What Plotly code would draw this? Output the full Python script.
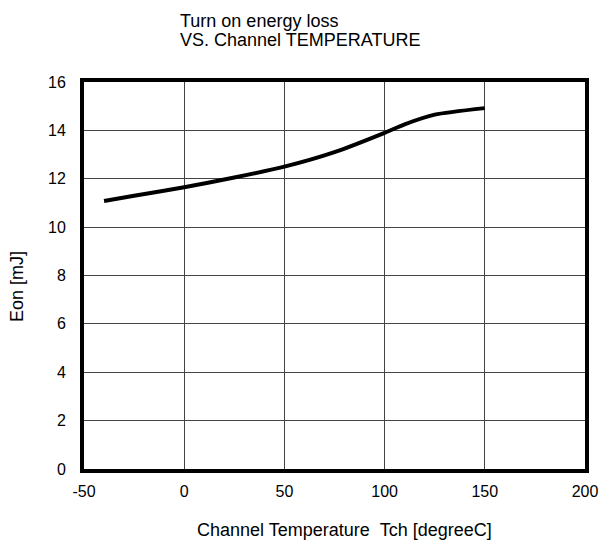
import plotly.graph_objects as go

temps = [-40, -25, 0, 25, 50, 75, 100, 110, 125, 150]
eon = [11.08, 11.3, 11.65, 12.05, 12.5, 13.1, 13.9, 14.25, 14.65, 14.92]

x_ticks = [-50, 0, 50, 100, 150, 200]
y_ticks = [0, 2, 4, 6, 8, 10, 12, 14, 16]

title_lines = ["Turn on energy loss", "VS. Channel TEMPERATURE"]
x_title = "Channel Temperature&nbsp;&nbsp;Tch [degreeC]"
y_title = "Eon [mJ]"

L, R, T, B = 84, 21, 82, 74
W, H = 606, 543
pw, ph = W - L - R, H - T - B


def px_x(p):
    return (p - L) / pw


def px_y(p):
    return (H - B - p) / ph


fig = go.Figure()
fig.add_trace(go.Scatter(x=temps, y=eon, mode="lines",
                         line=dict(color="black", width=4, shape="spline", smoothing=0.6),
                         showlegend=False, hoverinfo="skip"))

font = dict(family="Liberation Sans, Arial, sans-serif", size=16, color="black")
tfont = dict(family="Liberation Sans, Arial, sans-serif", size=18, color="black")

annotations = [
    dict(text=title_lines[0], xref="paper", yref="paper", x=px_x(178), y=px_y(21),
         xanchor="left", yanchor="middle", showarrow=False, font=tfont),
    dict(text=title_lines[1], xref="paper", yref="paper", x=px_x(178), y=px_y(40),
         xanchor="left", yanchor="middle", showarrow=False, font=tfont),
    dict(text=x_title, xref="paper", yref="paper", x=px_x(344), y=px_y(530),
         xanchor="center", yanchor="middle", showarrow=False, font=tfont),
    dict(text=y_title, xref="paper", yref="paper", x=px_x(17), y=px_y(287),
         xanchor="center", yanchor="middle", textangle=-90, showarrow=False, font=tfont),
]

fig.update_layout(
    width=W, height=H,
    margin=dict(l=L, r=R, t=T, b=B),
    paper_bgcolor="white", plot_bgcolor="white",
    font=font,
    annotations=annotations,
)
fig.update_xaxes(range=[-50, 200], tickvals=x_ticks, ticktext=[str(v) for v in x_ticks],
                 showgrid=True, gridcolor="#444", gridwidth=1,
                 showline=True, linecolor="black", linewidth=4, mirror=True,
                 zeroline=False, ticks="", ticklen=0, automargin=False,
                 ticklabelstandoff=5, tickfont=font)
fig.update_yaxes(range=[0, 16], tickvals=y_ticks, ticktext=[str(v) for v in y_ticks],
                 showgrid=True, gridcolor="#444", gridwidth=1,
                 showline=True, linecolor="black", linewidth=4, mirror=True,
                 zeroline=False, ticks="", ticklen=0, automargin=False,
                 ticklabelstandoff=11, tickfont=font)

fig.write_html("out.html", config={"displayModeBar": False},
               post_script="document.body.style.margin='0';")
